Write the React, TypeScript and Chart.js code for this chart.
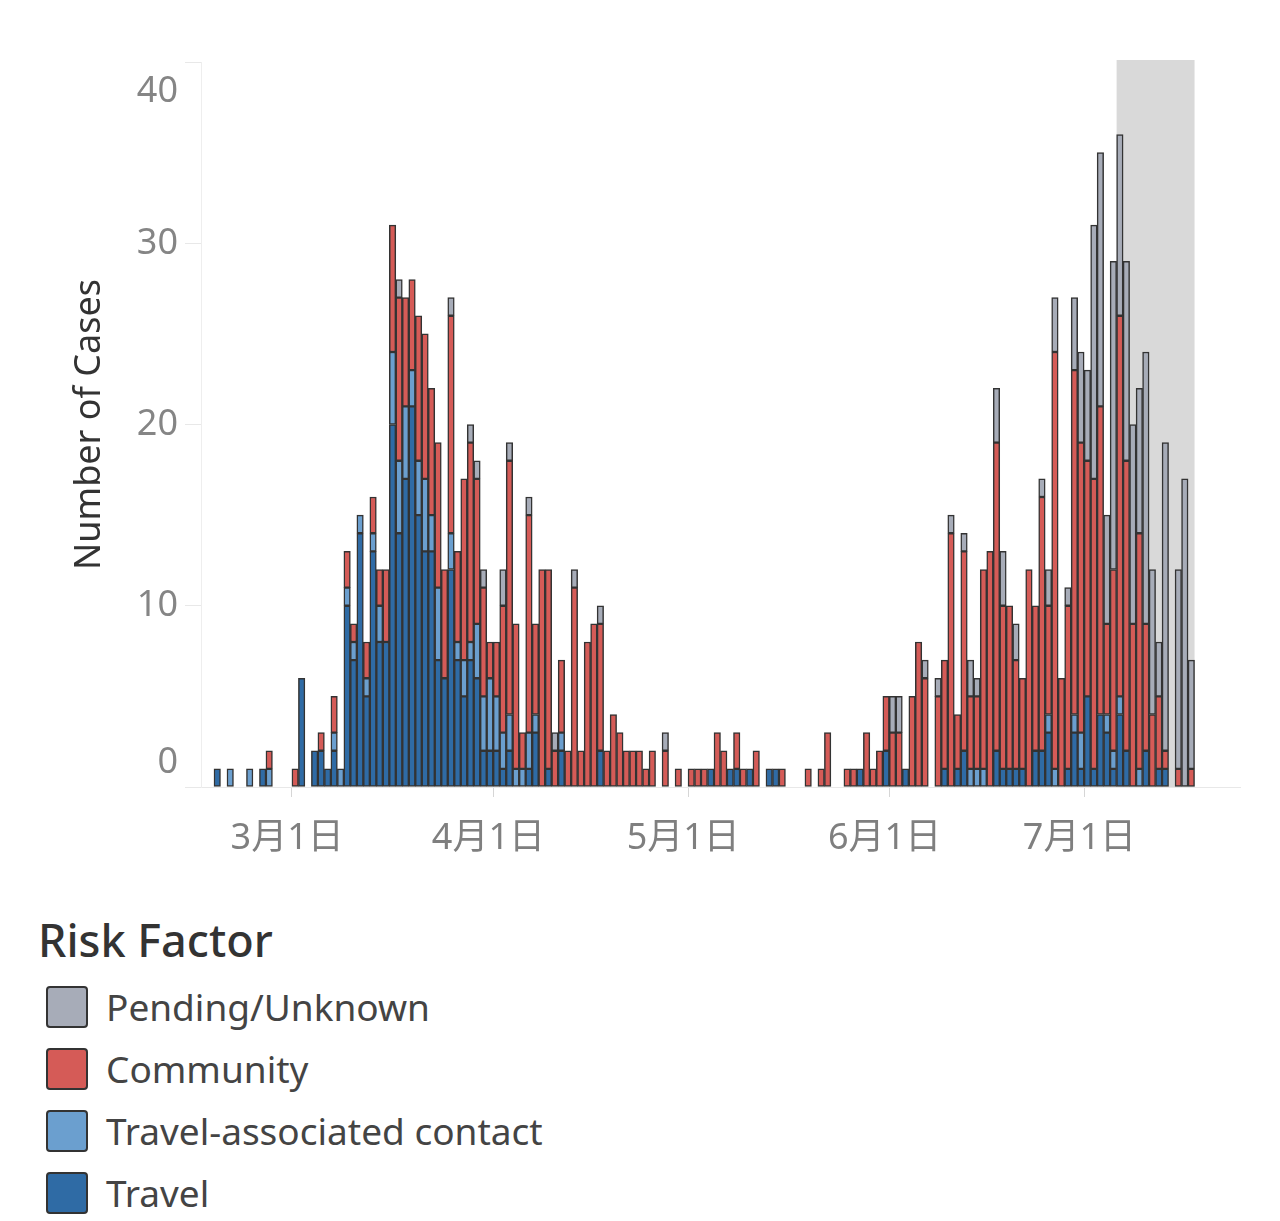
import { useEffect, useRef } from "react";
import { Chart, registerables } from "chart.js";

Chart.register(...registerables);

const FONT = "'Noto Sans', 'Noto Sans CJK JP', sans-serif";

// x axis: one category per day, Feb 16 .. Jul 24 2020
const START_DAY = Date.UTC(2020, 1, 16);
const DAY_COUNT = 160;
const dayLabels = Array.from({ length: DAY_COUNT }, (_, i) => {
  const d = new Date(START_DAY + i * 86400000);
  return `${d.getUTCMonth() + 1}月${d.getUTCDate()}日`;
});

// grey band = recent days, data still coming in
const shadeFrom = "7月6日";
const shadeTo = "7月17日";

const yTicks = [0, 10, 20, 30, 40];

// daily counts by risk factor (Feb 16 -> Jul 17)
const travelFeb = [0, 0, 1, 0, 0, 0, 0, 0, 0, 1, 0, 0, 0, 0];
const travelMar = [0, 6, 0, 2, 2, 1, 2, 0, 10, 7, 14, 5, 13, 8, 8, 20, 14, 17, 21, 15, 13, 13, 7, 6, 12, 7, 5, 7, 6, 2, 2];
const travelApr = [2, 1, 2, 0, 0, 1, 3, 0, 1, 0, 2, 0, 0, 0, 0, 0, 2, 0, 0, 0, 0, 0, 0, 0, 0, 0, 0, 0, 0, 0];
const travelMay = [0, 0, 0, 1, 0, 0, 1, 1, 0, 1, 0, 0, 1, 1, 0, 0, 0, 0, 0, 0, 0, 0, 0, 0, 0, 0, 1, 0, 0, 0, 2];
const travelJun = [0, 0, 1, 0, 0, 0, 0, 0, 1, 0, 1, 2, 0, 0, 0, 0, 2, 1, 1, 1, 1, 0, 2, 2, 3, 0, 0, 1, 3, 1];
const travelJul = [5, 1, 4, 3, 1, 4, 2, 0, 0, 2, 0, 1, 1, 0, 0, 0, 0];

const contactFeb = [0, 0, 0, 0, 1, 0, 0, 1, 0, 0, 1, 0, 0, 0];
const contactMar = [0, 0, 0, 0, 0, 0, 1, 1, 1, 1, 1, 1, 1, 2, 0, 4, 4, 4, 2, 3, 4, 2, 4, 0, 2, 1, 2, 1, 3, 3, 4];
const contactApr = [3, 2, 2, 1, 1, 2, 1, 0, 0, 0, 1, 0, 0, 0, 0, 0, 0, 0, 0, 0, 0, 0, 0, 0, 0, 0, 0, 0, 0, 0];
const contactMay = [0, 0, 0, 0, 0, 0, 0, 0, 0, 0, 0, 0, 0, 0, 0, 0, 0, 0, 0, 0, 0, 0, 0, 0, 0, 0, 0, 0, 0, 0, 0];
const contactJun = [0, 0, 0, 0, 0, 0, 0, 0, 0, 0, 0, 0, 1, 1, 1, 0, 0, 0, 0, 0, 0, 0, 0, 0, 1, 1, 0, 0, 1, 2];
const contactJul = [0, 0, 0, 1, 1, 1, 0, 0, 1, 0, 0, 0, 0, 0, 0, 0, 0];

const communityFeb = [0, 0, 0, 0, 0, 0, 0, 0, 0, 0, 1, 0, 0, 0];
const communityMar = [1, 0, 0, 0, 1, 0, 2, 0, 2, 1, 0, 2, 2, 2, 4, 7, 9, 6, 5, 8, 8, 7, 8, 6, 12, 5, 10, 11, 8, 6, 2];
const communityApr = [3, 7, 14, 8, 2, 12, 5, 12, 11, 2, 4, 2, 11, 2, 8, 9, 7, 2, 4, 3, 2, 2, 2, 1, 2, 0, 2, 0, 1, 0];
const communityMay = [1, 1, 1, 0, 3, 2, 0, 2, 1, 0, 2, 0, 0, 0, 1, 0, 0, 0, 1, 0, 1, 3, 0, 0, 1, 1, 0, 3, 1, 2, 3];
const communityJun = [3, 3, 0, 5, 8, 6, 0, 5, 6, 14, 3, 11, 4, 4, 11, 13, 17, 9, 9, 6, 5, 12, 8, 14, 6, 23, 6, 9, 19, 16];
const communityJul = [13, 16, 17, 5, 10, 21, 16, 9, 13, 7, 4, 4, 1, 0, 1, 0, 1];

const pendingFeb = [0, 0, 0, 0, 0, 0, 0, 0, 0, 0, 0, 0, 0, 0];
const pendingMar = [0, 0, 0, 0, 0, 0, 0, 0, 0, 0, 0, 0, 0, 0, 0, 0, 1, 0, 0, 0, 0, 0, 0, 0, 1, 0, 0, 1, 1, 1, 0];
const pendingApr = [0, 2, 1, 0, 0, 1, 0, 0, 0, 1, 0, 0, 1, 0, 0, 0, 1, 0, 0, 0, 0, 0, 0, 0, 0, 0, 1, 0, 0, 0];
const pendingMay = [0, 0, 0, 0, 0, 0, 0, 0, 0, 0, 0, 0, 0, 0, 0, 0, 0, 0, 0, 0, 0, 0, 0, 0, 0, 0, 0, 0, 0, 0, 0];
const pendingJun = [2, 2, 0, 0, 0, 1, 0, 1, 0, 1, 0, 1, 2, 1, 0, 0, 3, 3, 0, 2, 0, 0, 0, 1, 2, 3, 0, 1, 4, 5];
const pendingJul = [5, 14, 14, 6, 17, 10, 11, 11, 8, 15, 8, 3, 17, 0, 11, 17, 6];

const travel = [...travelFeb, ...travelMar, ...travelApr, ...travelMay, ...travelJun, ...travelJul];
const travelContact = [...contactFeb, ...contactMar, ...contactApr, ...contactMay, ...contactJun, ...contactJul];
const community = [...communityFeb, ...communityMar, ...communityApr, ...communityMay, ...communityJun, ...communityJul];
const pending = [...pendingFeb, ...pendingMar, ...pendingApr, ...pendingMay, ...pendingJun, ...pendingJul];

const legendItems = [
  { label: "Pending/Unknown", color: "#a7acb8" },
  { label: "Community", color: "#d55b57" },
  { label: "Travel-associated contact", color: "#6b9fcf" },
  { label: "Travel", color: "#2f6ba5" },
];

const isMonthStart = (i: number) => /月1日$/.test(dayLabels[i] || "");

// grey band behind the recent bars
const shadePlugin = {
  id: "shade",
  beforeDatasetsDraw(chart: any) {
    const x = chart.scales.x;
    const { top, bottom } = chart.chartArea;
    const i0 = dayLabels.indexOf(shadeFrom);
    const i1 = dayLabels.indexOf(shadeTo);
    const half = (x.getPixelForValue(1) - x.getPixelForValue(0)) / 2;
    const left = x.getPixelForValue(i0) - half;
    const right = x.getPixelForValue(i1) + half;
    const c = chart.ctx;
    c.save();
    c.fillStyle = "#d9d9d9";
    c.fillRect(left, top - 2, right - left, bottom - top + 2);
    c.restore();
  },
};

// tableau keeps the end labels inside the axis, so draw them by hand
const yLabelPlugin = {
  id: "yLabels",
  afterDraw(chart: any) {
    const y = chart.scales.y;
    const c = chart.ctx;
    c.save();
    c.font = `36px ${FONT}`;
    c.fillStyle = "#858585";
    c.textAlign = "right";
    c.textBaseline = "middle";
    yTicks.forEach((v) => {
      let py = y.getPixelForValue(v);
      py = Math.min(Math.max(py, y.top + 30), y.bottom - 24);
      c.fillText(String(v), y.right - 23, py);
    });
    c.restore();
  },
};

const App = () => {
  const canvasRef = useRef<HTMLCanvasElement | null>(null);

  useEffect(() => {
    const ctx = canvasRef.current?.getContext("2d");
    if (!ctx) return;

    const bars = (arr: number[]) => arr.map((v) => (v ? v : null));
    const common = {
      borderColor: "#333333",
      borderWidth: 1.5,
      borderSkipped: false,
      barPercentage: 1,
      categoryPercentage: 1,
    };

    const chart = new Chart(ctx, {
      type: "bar",
      data: {
        labels: dayLabels,
        datasets: [
          { ...common, label: "Travel", data: bars(travel), backgroundColor: "#2f6ba5" },
          { ...common, label: "Travel-associated contact", data: bars(travelContact), backgroundColor: "#6b9fcf" },
          { ...common, label: "Community", data: bars(community), backgroundColor: "#d55b57" },
          { ...common, label: "Pending/Unknown", data: bars(pending), backgroundColor: "#a7acb8" },
        ] as any,
      },
      options: {
        responsive: false,
        animation: false,
        layout: { padding: { left: 64, top: 62, right: 40, bottom: 0 } },
        plugins: {
          legend: { display: false },
          tooltip: { enabled: false },
        },
        scales: {
          x: {
            stacked: true,
            offset: true,
            grid: {
              offset: true,
              drawOnChartArea: false,
              tickLength: 10,
              tickColor: (c: any) => (isMonthStart(c.index) ? "#d6d6d6" : "rgba(0,0,0,0)"),
            },
            border: { color: "#e8e8e8" },
            ticks: {
              autoSkip: false,
              maxRotation: 0,
              minRotation: 0,
              padding: 20,
              labelOffset: -8,
              color: "#7f7f7f",
              font: { family: FONT, size: 36 },
              callback: (_v: any, i: number) => (isMonthStart(i) ? dayLabels[i] : ""),
            },
            afterFit: (s: any) => {
              s.height = 93;
            },
          },
          y: {
            stacked: true,
            min: 0,
            max: 40,
            ticks: { stepSize: 10, display: false },
            grid: { drawOnChartArea: false, tickLength: 16, color: "#e8e8e8" },
            border: { color: "#eeeeee" },
            title: {
              display: true,
              text: "Number of Cases",
              color: "#333333",
              font: { family: FONT, size: 36 },
            },
            afterFit: (s: any) => {
              s.width = 137;
            },
          },
        },
      } as any,
      plugins: [shadePlugin, yLabelPlugin],
    });

    return () => {
      chart.destroy();
    };
  }, []);

  return (
    <div style={{ position: "absolute", left: 0, top: 0, width: 1280, height: 1221, background: "#fff", fontFamily: FONT }}>
      <canvas ref={canvasRef} width={1280} height={880} style={{ position: "absolute", left: 0, top: 0 }} />
      <div
        style={{
          position: "absolute",
          left: 38,
          top: 917,
          fontSize: 45,
          lineHeight: "45px",
          fontWeight: 500,
          color: "#333",
          whiteSpace: "nowrap",
        }}
      >
        Risk Factor
      </div>
      {legendItems.map((item, i) => (
        <div key={item.label}>
          <div
            style={{
              position: "absolute",
              left: 46,
              top: 986 + i * 62,
              width: 42,
              height: 42,
              boxSizing: "border-box",
              border: "2.5px solid #333",
              borderRadius: 4,
              background: item.color,
            }}
          />
          <div
            style={{
              position: "absolute",
              left: 106,
              top: 988 + i * 62,
              fontSize: 37,
              lineHeight: "37px",
              color: "#444",
              whiteSpace: "nowrap",
            }}
          >
            {item.label}
          </div>
        </div>
      ))}
    </div>
  );
};

export default App;
